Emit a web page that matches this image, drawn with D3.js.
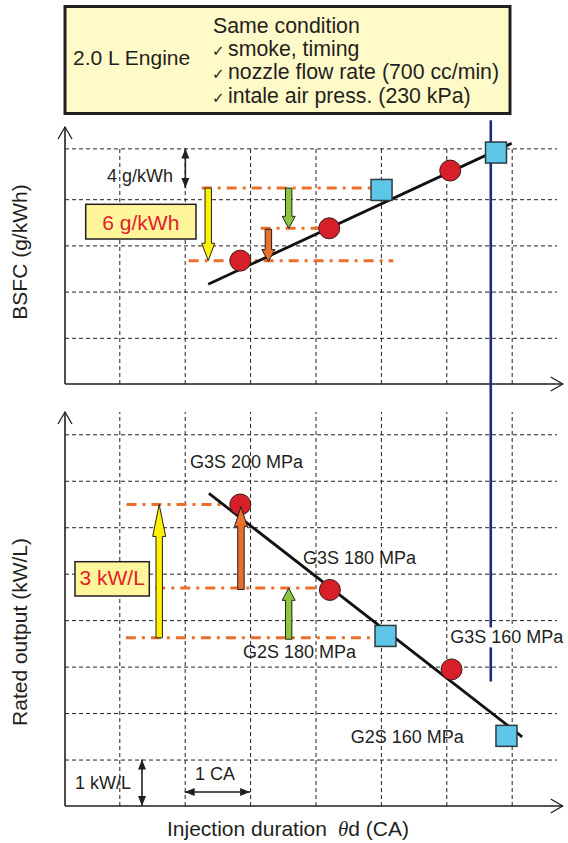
<!DOCTYPE html>
<html>
<head>
<meta charset="utf-8">
<script src="https://cdn.jsdelivr.net/npm/d3@7"></script>
<style>
  body { margin: 0; background: #fff; }
  svg text { font-family: "Liberation Sans", Arial, sans-serif; fill: #231f20; }
</style>
</head>
<body>
<div id="chart"></div>
<script>
// figure size
const width = 568;
const height = 843;

// grid positions: x in CA steps, y in grid rows
const gridCA = [1, 2, 3, 4, 5, 6, 7];
const gridBsfc = [1, 2, 3, 4, 5.1];
const gridOutput = [1, 2, 3, 4, 5, 6, 7, 8];

// BSFC panel  [CA, rows]
const bsfcG3S = [[2.85, 2.67], [4.21, 3.37], [6.06, 4.62]];
const bsfcG2S = [[5.01, 4.20], [6.76, 5.01]];
const bsfcTrend = [[2.36, 2.16], [7.0, 5.21]];
const bsfcLevels = [[4.24, 2.26, 4.86], [3.37, 3.16, 4.07], [2.67, 2.06, 5.19]]; // level, from, to
const bsfcArrows = [[2.36, 4.24, 2.67, "yellow"], [3.59, 4.24, 3.37, "green"], [3.28, 3.35, 2.65, "orange"]]; // x, tail, tip

// rated output panel
const outG3S = [[2.85, 6.49], [4.22, 4.65], [6.08, 2.94]];
const outG2S = [[5.07, 3.66], [6.92, 1.51]];
const outTrend = [[2.37, 6.73], [7.16, 1.49]];
const outLevels = [[6.49, 1.11, 2.59], [4.69, 1.55, 4.02], [3.62, 1.10, 4.86]];
const outArrows = [[1.61, 3.62, 6.49, "yellow"], [2.86, 4.66, 6.44, "orange"], [3.59, 3.59, 4.69, "green"]];
const outLabels = ["G3S 200 MPa", "G3S 180 MPa", "G3S 160 MPa", "G2S 180 MPa", "G2S 160 MPa"];

// limit line (CA) and header text
const limitCA = 6.68;
const headerLeft = "2.0 L Engine";
const headerLines = ["Same condition", "smoke, timing", "nozzle flow rate (700 cc/min)", "intale air press. (230 kPa)"];

const colors = {yellow: "#fff200", green: "#8cc63f", orange: "#e96f2b"};

const svg = d3.select("#chart")
  .append("svg")
  .attr("width", width)
  .attr("height", height);

// scales
const xScale = d3.scaleLinear().domain([1, 7]).range([119.3, 511.7]);
const yTop = d3.scaleLinear().domain([0, 5]).range([384, 153]);
const yBot = d3.scaleLinear().domain([0, 8]).range([806, 434.3]);

const x0 = xScale(0.17);      // y axis position
const xEnd = xScale(7.78);    // arrow end of x axis
const gridRight = 557;

// small double arrow: line plus two filled heads
function dimArrow(xa, ya, xb, yb) {
  const g = svg.append("g");
  g.append("line")
    .attr("x1", xa).attr("y1", ya).attr("x2", xb).attr("y2", yb)
    .attr("stroke", "#231f20").attr("stroke-width", 1.6);
  const ang = Math.atan2(yb - ya, xb - xa);
  [[xb, yb, ang], [xa, ya, ang + Math.PI]].forEach(([x, y, a]) => {
    const L = 10, W = 4;
    const bx = x - L * Math.cos(a), by = y - L * Math.sin(a);
    const px = -Math.sin(a) * W, py = Math.cos(a) * W;
    g.append("path")
      .attr("d", `M${x},${y} L${bx + px},${by + py} L${bx - px},${by - py} Z`)
      .attr("fill", "#231f20");
  });
}

/*
  header box
*/
svg.append("rect")
  .attr("x", 65).attr("y", 6.5)
  .attr("width", 445).attr("height", 107)
  .attr("fill", "#fffac8")
  .attr("stroke", "#231f20")
  .attr("stroke-width", 3);

svg.append("text")
  .attr("x", 73).attr("y", 65)
  .attr("font-size", "21px")
  .text(headerLeft);

headerLines.forEach((t, i) => {
  const y = 33 + i * 23.2;
  if (i > 0) {
    svg.append("text")
      .attr("x", 212).attr("y", y)
      .attr("font-size", "15px")
      .style("font-family", "'DejaVu Sans', sans-serif")
      .text("\u2713");
  }
  svg.append("text")
    .attr("x", i > 0 ? 228 : 213).attr("y", y)
    .attr("font-size", "21.3px")
    .text(t);
});

/*
  panel helper
*/
function drawPanel(yScale, gridY, yTopEdge, yAxisTip) {
  const yBase = yScale(0);
  const g = svg.append("g");

  // vertical grid
  g.append("g")
    .attr("transform", `translate(0,${yBase})`)
    .call(d3.axisBottom(xScale).tickValues(gridCA).tickSize(-(yBase - yTopEdge)).tickFormat(""))
    .call(a => a.select(".domain").remove())
    .selectAll("line")
    .attr("stroke", "#231f20")
    .attr("stroke-dasharray", "4,3");

  // horizontal grid
  g.append("g")
    .attr("transform", `translate(${x0},0)`)
    .call(d3.axisLeft(yScale).tickValues(gridY).tickSize(-(gridRight - x0)).tickFormat(""))
    .call(a => a.select(".domain").remove())
    .selectAll("line")
    .attr("stroke", "#231f20")
    .attr("stroke-dasharray", "4,3");

  // axes with open arrow heads
  g.append("path")
    .attr("d", `M${x0},${yBase} L${x0},${yAxisTip} M${x0},${yBase} L${xEnd},${yBase}`)
    .attr("stroke", "#231f20").attr("stroke-width", 1.6).attr("fill", "none");
  g.append("path")
    .attr("d", `M${x0 - 7},${yAxisTip + 12} L${x0},${yAxisTip} L${x0 + 7},${yAxisTip + 12}` +
               `M${xEnd - 12},${yBase - 7} L${xEnd},${yBase} L${xEnd - 12},${yBase + 7}`)
    .attr("stroke", "#231f20").attr("stroke-width", 1.3).attr("fill", "none");
  return g;
}

function drawLevels(levels, yScale) {
  svg.append("g").selectAll("line")
    .data(levels)
    .enter()
    .append("line")
      .attr("x1", d => xScale(d[1]))
      .attr("x2", d => xScale(d[2]))
      .attr("y1", d => yScale(d[0]))
      .attr("y2", d => yScale(d[0]))
      .attr("stroke", colors.orange)
      .attr("stroke-width", 3)
      .attr("stroke-dasharray", "10,6,3,6");
}

function drawTrend(pts, yScale) {
  svg.append("path")
    .datum(pts)
    .attr("d", d3.line().x(d => xScale(d[0])).y(d => yScale(d[1])))
    .attr("stroke", "#111").attr("stroke-width", 2.8).attr("fill", "none");
}

function drawPoints(circles, squares, yScale) {
  svg.append("g").selectAll("circle")
    .data(circles)
    .enter()
    .append("circle")
      .attr("cx", d => xScale(d[0]))
      .attr("cy", d => yScale(d[1]))
      .attr("r", 10.5)
      .attr("fill", "#d71f2a")
      .attr("stroke", "#3a1a1a")
      .attr("stroke-width", 1);
  svg.append("g").selectAll("rect")
    .data(squares)
    .enter()
    .append("rect")
      .attr("x", d => xScale(d[0]) - 10.5)
      .attr("y", d => yScale(d[1]) - 10.5)
      .attr("width", 21).attr("height", 21)
      .attr("fill", "#5ec6e8")
      .attr("stroke", "#2b3a40")
      .attr("stroke-width", 1.5);
}

// block arrows, x / tail / tip
function drawArrows(arrows, yScale) {
  svg.append("g").selectAll("path")
    .data(arrows)
    .enter()
    .append("path")
      .attr("d", d => {
        const x = xScale(d[0]), y0 = yScale(d[1]), y1 = yScale(d[2]);
        const s = Math.sign(y1 - y0);
        const hl = Math.max(12, Math.abs(y1 - y0) * 0.24);
        const w = 3.2, hw = 6.5, yb = y1 - s * hl;
        return `M${x - w},${y0} L${x + w},${y0} L${x + w},${yb} L${x + hw},${yb} L${x},${y1} ` +
               `L${x - hw},${yb} L${x - w},${yb} Z`;
      })
      .attr("fill", d => colors[d[3]])
      .attr("stroke", "#231f20")
      .attr("stroke-width", 1);
}

/*
  BSFC panel
*/
drawPanel(yTop, gridBsfc, yTop(5.1), 127);
drawLevels(bsfcLevels, yTop);
drawTrend(bsfcTrend, yTop);

/*
  rated output panel
*/
drawPanel(yBot, gridOutput, 412, 412);
drawLevels(outLevels, yBot);
drawTrend(outTrend, yBot);

// limit line across both panels
svg.append("line")
  .attr("x1", xScale(limitCA)).attr("x2", xScale(limitCA))
  .attr("y1", yTop(5.71)).attr("y2", yBot(2.68))
  .attr("stroke", "#1f2a86").attr("stroke-width", 2.6);

// point labels
const labelPos = [[2.08, 7.27], [3.81, 5.20], [6.06, 3.50], [2.89, 3.18], [4.54, 1.35]];
const labels = svg.append("g");
outLabels.forEach((t, i) => {
  const tx = labels.append("text")
    .attr("x", xScale(labelPos[i][0]))
    .attr("y", yBot(labelPos[i][1]))
    .attr("font-size", "18px")
    .text(t);
  if (i === 2) {
    const bb = tx.node().getBBox();
    labels.insert("rect", "text")
      .attr("x", bb.x - 1).attr("y", bb.y)
      .attr("width", bb.width + 2).attr("height", bb.height)
      .attr("fill", "#fff");
  }
});

drawPoints(bsfcG3S, bsfcG2S, yTop);
drawPoints(outG3S, outG2S, yBot);
drawArrows(bsfcArrows, yTop);
drawArrows(outArrows, yBot);

/*
  scale annotations
*/
// 4 g/kWh
dimArrow(xScale(2.01), yTop(5.1), xScale(2.01), yTop(4.24));
svg.append("text")
  .attr("x", 173).attr("y", 182)
  .attr("text-anchor", "end")
  .attr("font-size", "18px")
  .text("4 g/kWh");

// 1 kW/L
dimArrow(142, yBot(1), 142, yBot(0));
svg.append("text")
  .attr("x", 131).attr("y", 789)
  .attr("text-anchor", "end")
  .attr("font-size", "18px")
  .text("1 kW/L");

// 1 CA
dimArrow(xScale(2), 792, xScale(3), 792);
svg.append("text")
  .attr("x", 215).attr("y", 780)
  .attr("text-anchor", "middle")
  .attr("font-size", "18px")
  .text("1 CA");

// highlighted differences
function valueBox(x, y, w, h, t, baseline) {
  svg.append("rect")
    .attr("x", x).attr("y", y).attr("width", w).attr("height", h)
    .attr("fill", "#fff59a")
    .attr("stroke", "#231f20").attr("stroke-width", 1.5);
  svg.append("text")
    .attr("x", x + w / 2).attr("y", baseline)
    .attr("text-anchor", "middle")
    .attr("font-size", "21px")
    .style("fill", "#e2202c")
    .text(t);
}
valueBox(85.7, 204.3, 110.3, 34.7, "6 g/kWh", 230);
valueBox(75, 561.7, 74.3, 34.3, "3 kW/L", 585);

/*
  axis titles
*/
svg.append("text")
  .attr("transform", "translate(27,252) rotate(-90)")
  .attr("text-anchor", "middle")
  .attr("font-size", "21px")
  .text("BSFC (g/kWh)");

svg.append("text")
  .attr("transform", "translate(27,632) rotate(-90)")
  .attr("text-anchor", "middle")
  .attr("font-size", "21px")
  .text("Rated output (kW/L)");

const xt = svg.append("text")
  .attr("y", 836)
  .attr("font-size", "21px");
xt.append("tspan").attr("x", 167).text("Injection duration");
xt.append("tspan").attr("x", 338)
  .style("font-family", "'Liberation Serif', serif")
  .style("font-style", "italic")
  .text("\u03b8");
xt.append("tspan").text("d (CA)");
</script>
</body>
</html>
